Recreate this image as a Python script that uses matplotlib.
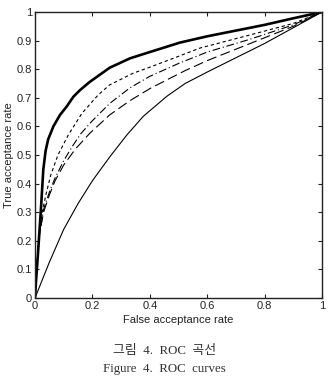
import matplotlib
matplotlib.use("Agg")
import matplotlib.pyplot as plt

# ROC curve data (false acceptance rate, true acceptance rate)
far_1 = [0, 0.003, 0.01, 0.02, 0.029, 0.037, 0.046, 0.064, 0.087, 0.11, 0.134, 0.157, 0.19, 0.26, 0.331, 0.4, 0.505, 0.6, 0.7, 0.8, 0.9, 1.0]
tar_1 = [0, 0.05, 0.15, 0.30, 0.45, 0.515, 0.555, 0.60, 0.64, 0.669, 0.704, 0.727, 0.755, 0.805, 0.838, 0.86, 0.893, 0.915, 0.935, 0.955, 0.978, 1.0]

far_2 = [0, 0.005, 0.012, 0.025, 0.04, 0.055, 0.08, 0.116, 0.163, 0.22, 0.26, 0.342, 0.4, 0.5, 0.575, 0.75, 0.9, 1.0]
tar_2 = [0, 0.10, 0.19, 0.30, 0.37, 0.43, 0.50, 0.57, 0.645, 0.71, 0.745, 0.786, 0.807, 0.845, 0.874, 0.92, 0.96, 1.0]

far_3 = [0, 0.005, 0.015, 0.03, 0.05, 0.07, 0.1, 0.13, 0.16, 0.2, 0.26, 0.331, 0.4, 0.5, 0.6, 0.75, 0.9, 1.0]
tar_3 = [0, 0.10, 0.22, 0.31, 0.37, 0.42, 0.48, 0.53, 0.575, 0.62, 0.68, 0.735, 0.775, 0.82, 0.86, 0.905, 0.955, 1.0]

far_4 = [0, 0.005, 0.015, 0.03, 0.05, 0.07, 0.1, 0.14, 0.19, 0.26, 0.331, 0.4, 0.464, 0.523, 0.6, 0.75, 0.9, 1.0]
tar_4 = [0, 0.10, 0.22, 0.30, 0.36, 0.41, 0.465, 0.52, 0.575, 0.64, 0.69, 0.732, 0.765, 0.795, 0.83, 0.89, 0.95, 1.0]

far_5 = [0, 0.02, 0.05, 0.1, 0.15, 0.2, 0.261, 0.32, 0.377, 0.459, 0.523, 0.6, 0.7, 0.8, 0.9, 1.0]
tar_5 = [0, 0.05, 0.125, 0.24, 0.33, 0.41, 0.494, 0.57, 0.635, 0.705, 0.75, 0.79, 0.84, 0.89, 0.945, 1.0]

x_ticks = [0, 0.2, 0.4, 0.6, 0.8, 1]
x_labels = ["0", "0.2", "0.4", "0.6", "0.8", "1"]
y_ticks = [0, 0.1, 0.2, 0.3, 0.4, 0.5, 0.6, 0.7, 0.8, 0.9, 1]
y_labels = ["0", "0.1", "0.2", "0.3", "0.4", "0.5", "0.6", "0.7", "0.8", "0.9", "1"]

plt.rcParams['font.family'] = ['Liberation Sans', 'DejaVu Sans']

fig = plt.figure(figsize=(3.29, 3.77), dpi=100)
ax = fig.add_axes([35/329, 1 - 298/377, 287/329, 286/377])

kw = dict(color='black', solid_joinstyle='round', dash_joinstyle='round')
ax.plot(far_1, tar_1, lw=1.9, linestyle='-', **kw)
ax.plot(far_2, tar_2, lw=0.8, linestyle=(0, (3, 2.5)), **kw)
ax.plot(far_3, tar_3, lw=0.8, linestyle=(0, (7, 2.5, 1, 2.5)), **kw)
ax.plot(far_4, tar_4, lw=0.8, linestyle=(0, (9, 4)), **kw)
ax.plot(far_5, tar_5, lw=0.8, linestyle='-', **kw)

ax.set_xlim(0, 1)
ax.set_ylim(0, 1)
ax.set_xticks(x_ticks)
ax.set_xticklabels(x_labels)
ax.set_yticks(y_ticks)
ax.set_yticklabels(y_labels)
ax.tick_params(direction='in', length=3, width=0.8, labelsize=8, top=True, right=True, pad=2,
               colors='#222222')
for s in ax.spines.values():
    s.set_linewidth(1.0)
    s.set_color('#222222')
ax.set_xlabel("False acceptance rate", fontsize=8, labelpad=3, color='#222222')
ax.set_ylabel("True acceptance rate", fontsize=8, labelpad=2, color='#222222')

cap_fam = ['Liberation Serif', 'Noto Sans CJK KR']
fig.text(0.5, 1 - 351/377, "그림  4.  ROC  곡선", ha='center', va='center', fontsize=9.3, family=cap_fam, color='#333333')
fig.text(0.5, 1 - 369/377, "Figure  4.  ROC  curves", ha='center', va='center', fontsize=9.3, family=cap_fam, color='#333333')

fig.savefig("out.png", dpi=100)
